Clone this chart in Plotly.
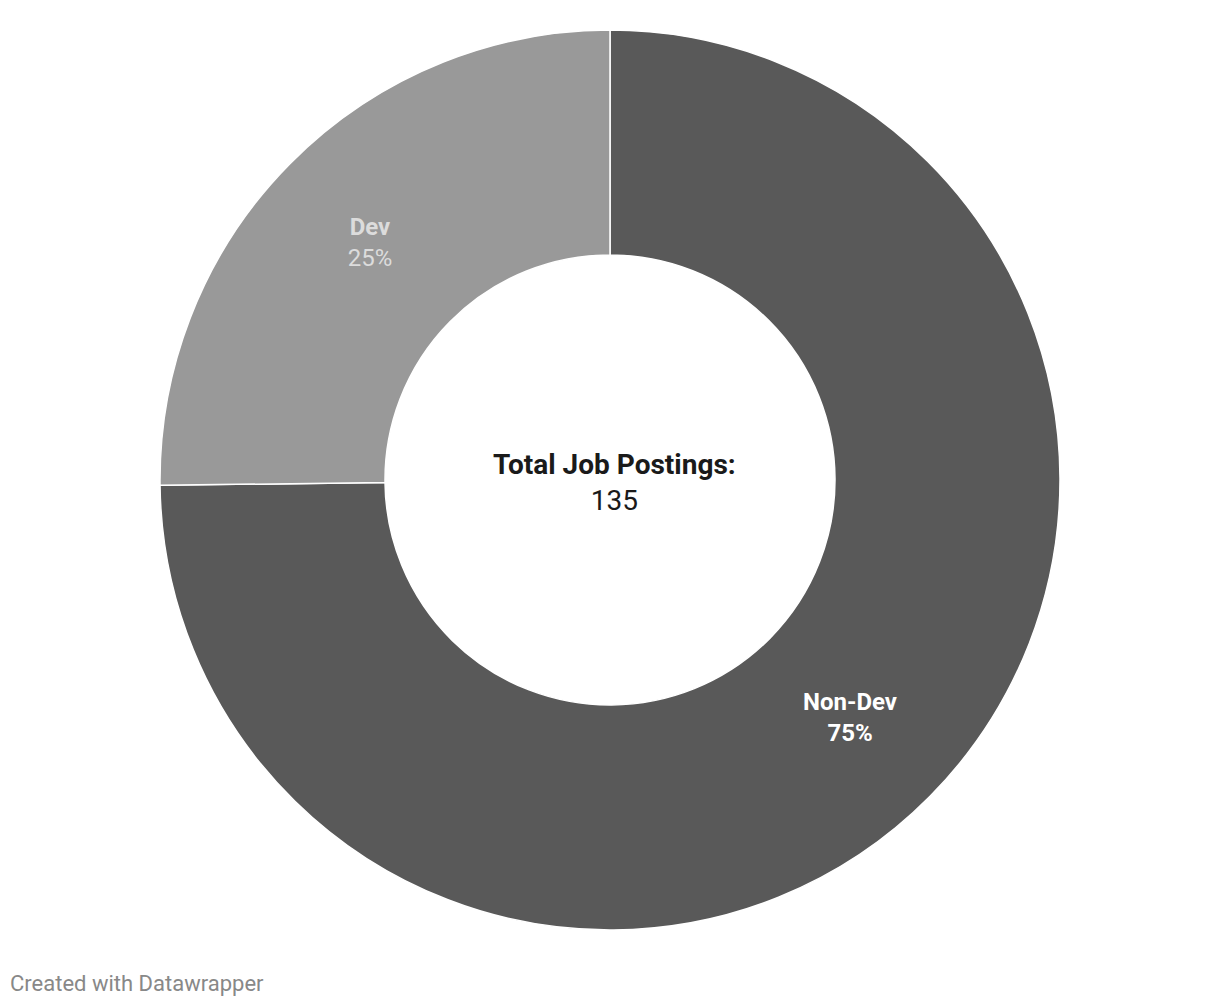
import plotly.graph_objects as go

# Job postings split (Non-Dev first so Dev ends up on the upper left)
labels = ["Non-Dev", "Dev"]
counts = [101, 34]
slice_colors = ["#595959", "#999999"]
text_colors = ["#ffffff", "#dcdcdc"]
templates = ["<b>%{label}<br>%{percent:.0%}</b>", "<b>%{label}</b><br>%{percent:.0%}"]

total = sum(counts)

# page has an 8px body margin, so the figure is a bit smaller than the window
W, H = 1204, 990
cx, cy, r = 602, 472, 450

fig = go.Figure(
    go.Pie(
        labels=labels,
        values=counts,
        hole=0.5,
        sort=False,
        direction="clockwise",
        rotation=0,
        marker=dict(colors=slice_colors, line=dict(color="#ffffff", width=1.5)),
        texttemplate=templates,
        textposition="inside",
        insidetextorientation="horizontal",
        textfont=dict(family="Roboto", size=24, color=text_colors),
        showlegend=False,
        domain=dict(
            x=[(cx - r) / W, (cx + r) / W],
            y=[(H - cy - r) / H, (H - cy + r) / H],
        ),
    )
)

# center label
fig.add_annotation(
    text=f"<b>Total Job Postings:</b><br>{total}",
    x=(cx + 4) / W, y=(H - cy - 2) / H,
    xref="paper", yref="paper",
    xanchor="center", yanchor="middle",
    showarrow=False,
    font=dict(family="Roboto", size=28, color="#1a1a1a"),
)

fig.add_annotation(
    text="Created with Datawrapper",
    x=0, y=(H - 975) / H,
    xref="paper", yref="paper",
    xanchor="left", yanchor="middle",
    showarrow=False,
    font=dict(family="Roboto", size=22, color="#888888"),
)

fig.update_layout(
    width=W,
    height=H,
    margin=dict(l=0, r=0, t=0, b=0),
    paper_bgcolor="#ffffff",
    plot_bgcolor="#ffffff",
    font=dict(family="Roboto"),
)

fig.write_html("out.html")
